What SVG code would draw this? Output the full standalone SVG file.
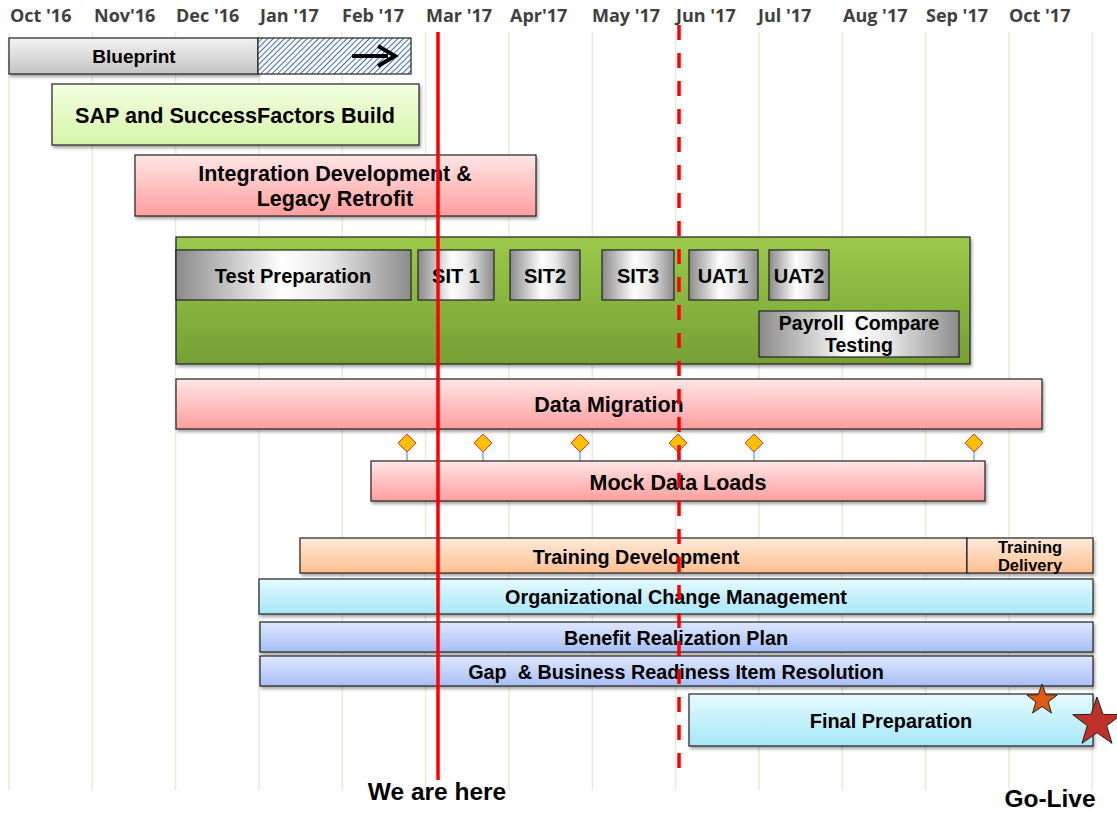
<svg xmlns="http://www.w3.org/2000/svg" width="1117" height="813" viewBox="0 0 1117 813">
<defs>
<style>
.mon{font-family:"Open Sans","Liberation Sans",sans-serif;font-weight:bold;font-size:18px;fill:#404040}
.t{font-family:"Liberation Sans",Arial,sans-serif;font-weight:bold;fill:#000;text-anchor:middle}
.grid{stroke:#ece8dc;stroke-width:1.5}
.bar{stroke:#222;stroke-width:1.2}
</style>
<linearGradient id="gGray" x1="0" y1="0" x2="0" y2="1"><stop offset="0" stop-color="#f2f2f2"/><stop offset="1" stop-color="#c4c4c4"/></linearGradient>
<linearGradient id="gGreenL" x1="0" y1="0" x2="0" y2="1"><stop offset="0" stop-color="#f4ffe4"/><stop offset="1" stop-color="#d6f5a6"/></linearGradient>
<linearGradient id="gPink" x1="0" y1="0" x2="0" y2="1"><stop offset="0" stop-color="#ffe6e6"/><stop offset="1" stop-color="#ff9e9e"/></linearGradient>
<linearGradient id="gGreen" x1="0" y1="0" x2="0" y2="1"><stop offset="0" stop-color="#9cc94a"/><stop offset="1" stop-color="#76a035"/></linearGradient>
<linearGradient id="gSilver" x1="0" y1="0" x2="1" y2="0"><stop offset="0" stop-color="#8a8a8a"/><stop offset="0.45" stop-color="#ffffff"/><stop offset="0.65" stop-color="#e8e8e8"/><stop offset="1" stop-color="#8c8c8c"/></linearGradient>
<linearGradient id="gPeach" x1="0" y1="0" x2="0" y2="1"><stop offset="0" stop-color="#ffeadc"/><stop offset="1" stop-color="#ffbf8e"/></linearGradient>
<linearGradient id="gCyan" x1="0" y1="0" x2="0" y2="1"><stop offset="0" stop-color="#e6fbff"/><stop offset="1" stop-color="#a6e6f8"/></linearGradient>
<linearGradient id="gBlue" x1="0" y1="0" x2="0" y2="1"><stop offset="0" stop-color="#dfe8ff"/><stop offset="1" stop-color="#a7bff6"/></linearGradient>
<pattern id="hatch" width="4" height="4" patternUnits="userSpaceOnUse" patternTransform="rotate(45)"><rect width="4" height="4" fill="#fff"/><line x1="0" y1="0" x2="0" y2="4" stroke="#3a6ab8" stroke-width="2"/></pattern>
<filter id="sh" x="-5%" y="-20%" width="110%" height="150%"><feDropShadow dx="1.5" dy="2.5" stdDeviation="1.5" flood-color="#000" flood-opacity="0.35"/></filter>
</defs>
<rect width="1117" height="813" fill="#fff"/>
<g id="grid">
<line class="grid" x1="9" y1="32" x2="9" y2="790"/>
<line class="grid" x1="92.3" y1="32" x2="92.3" y2="790"/>
<line class="grid" x1="175.6" y1="32" x2="175.6" y2="790"/>
<line class="grid" x1="259" y1="32" x2="259" y2="790"/>
<line class="grid" x1="342.3" y1="32" x2="342.3" y2="790"/>
<line class="grid" x1="425.6" y1="32" x2="425.6" y2="790"/>
<line class="grid" x1="509" y1="32" x2="509" y2="790"/>
<line class="grid" x1="592.3" y1="32" x2="592.3" y2="790"/>
<line class="grid" x1="675.6" y1="32" x2="675.6" y2="790"/>
<line class="grid" x1="759" y1="32" x2="759" y2="790"/>
<line class="grid" x1="842.3" y1="32" x2="842.3" y2="790"/>
<line class="grid" x1="925.6" y1="32" x2="925.6" y2="790"/>
<line class="grid" x1="1009" y1="32" x2="1009" y2="790"/>
<line class="grid" x1="1092.3" y1="32" x2="1092.3" y2="790"/>
</g>
<g id="months">
<text class="mon" x="10" y="22">Oct '16</text>
<text class="mon" x="94" y="22">Nov'16</text>
<text class="mon" x="176" y="22">Dec '16</text>
<text class="mon" x="260" y="22">Jan '17</text>
<text class="mon" x="342" y="22">Feb '17</text>
<text class="mon" x="426" y="22">Mar '17</text>
<text class="mon" x="510" y="22">Apr'17</text>
<text class="mon" x="592" y="22">May '17</text>
<text class="mon" x="676" y="22">Jun '17</text>
<text class="mon" x="758" y="22">Jul '17</text>
<text class="mon" x="843" y="22">Aug '17</text>
<text class="mon" x="926" y="22">Sep '17</text>
<text class="mon" x="1009" y="22">Oct '17</text>
</g>
<g id="blueprint">
<rect class="bar" x="9" y="38" width="249" height="36" fill="url(#gGray)" filter="url(#sh)"/>
<rect class="bar" x="258" y="38" width="153" height="36" fill="url(#hatch)"/>
<text class="t" x="134" y="63" font-size="19">Blueprint</text>
<path d="M352 56 H388" stroke="#000" stroke-width="4"/>
<path d="M378 46 L395 56 L378 66" fill="none" stroke="#000" stroke-width="4"/>
</g>
<g id="sap-build">
<rect class="bar" x="52" y="84" width="367" height="61" fill="url(#gGreenL)" filter="url(#sh)"/>
<text class="t" x="235" y="123" font-size="21.6">SAP and SuccessFactors Build</text>
</g>
<g id="integration">
<rect class="bar" x="135" y="155" width="401" height="61" fill="url(#gPink)" filter="url(#sh)"/>
<text class="t" x="335" y="181" font-size="21.5">Integration Development &amp;</text>
<text class="t" x="335" y="206" font-size="21.5">Legacy Retrofit</text>
</g>
<g id="testing">
<rect class="bar" x="176" y="237" width="794" height="127" fill="url(#gGreen)" filter="url(#sh)"/>
</g>
<g id="test-prep">
<rect class="bar" x="176" y="250" width="235" height="50" fill="url(#gSilver)"/>
<text class="t" x="293" y="283" font-size="20">Test Preparation</text>
</g>
<g id="sit1">
<rect class="bar" x="418" y="250" width="76" height="50" fill="url(#gSilver)"/>
<text class="t" x="456" y="283" font-size="20">SIT 1</text>
</g>
<g id="sit2">
<rect class="bar" x="510" y="250" width="70" height="50" fill="url(#gSilver)"/>
<text class="t" x="545" y="283" font-size="20">SIT2</text>
</g>
<g id="sit3">
<rect class="bar" x="602" y="250" width="72" height="50" fill="url(#gSilver)"/>
<text class="t" x="638" y="283" font-size="20">SIT3</text>
</g>
<g id="uat1">
<rect class="bar" x="689" y="250" width="69" height="50" fill="url(#gSilver)"/>
<text class="t" x="723" y="283" font-size="20">UAT1</text>
</g>
<g id="uat2">
<rect class="bar" x="769" y="250" width="60" height="50" fill="url(#gSilver)"/>
<text class="t" x="799" y="283" font-size="20">UAT2</text>
</g>
<g id="payroll">
<rect class="bar" x="759" y="311" width="200" height="46" fill="url(#gSilver)"/>
<text class="t" x="859" y="330" font-size="19.5" xml:space="preserve">Payroll  Compare</text>
<text class="t" x="859" y="352" font-size="19.5">Testing</text>
</g>
<g id="data-migration">
<rect class="bar" x="176" y="379" width="866" height="50" fill="url(#gPink)" filter="url(#sh)"/>
<text class="t" x="609" y="412" font-size="21.5">Data Migration</text>
</g>
<g id="milestones">
<g stroke="#6a8fbf" stroke-width="1.2">
<line x1="407" y1="443" x2="407" y2="461"/>
<line x1="483" y1="443" x2="483" y2="461"/>
<line x1="580" y1="443" x2="580" y2="461"/>
<line x1="678" y1="443" x2="678" y2="461"/>
<line x1="754" y1="443" x2="754" y2="461"/>
<line x1="974" y1="443" x2="974" y2="461"/>
</g>
<g fill="#ffc000" stroke="#ff3030" stroke-width="1">
<path d="M407 434 L416 443 L407 452 L398 443 Z"/>
<path d="M483 434 L492 443 L483 452 L474 443 Z"/>
<path d="M580 434 L589 443 L580 452 L571 443 Z"/>
<path d="M678 434 L687 443 L678 452 L669 443 Z"/>
<path d="M754 434 L763 443 L754 452 L745 443 Z"/>
<path d="M974 434 L983 443 L974 452 L965 443 Z"/>
</g>
</g>
<g id="mock-loads">
<rect class="bar" x="371" y="461" width="614" height="40" fill="url(#gPink)" filter="url(#sh)"/>
<text class="t" x="678" y="490" font-size="21.5">Mock Data Loads</text>
</g>
<g id="training-dev">
<rect class="bar" x="300" y="538" width="667" height="35" fill="url(#gPeach)" filter="url(#sh)"/>
<text class="t" x="636" y="564" font-size="19.8">Training Development</text>
</g>
<g id="training-del">
<rect class="bar" x="967" y="538" width="126" height="35" fill="url(#gPeach)" filter="url(#sh)"/>
<text class="t" x="1030" y="553" font-size="16.5">Training</text>
<text class="t" x="1030" y="571" font-size="16.5">Delivery</text>
</g>
<g id="ocm">
<rect class="bar" x="259" y="579" width="834" height="35" fill="url(#gCyan)" filter="url(#sh)"/>
<text class="t" x="676" y="604" font-size="19.8">Organizational Change Management</text>
</g>
<g id="benefit">
<rect class="bar" x="260" y="622" width="833" height="30" fill="url(#gBlue)" filter="url(#sh)"/>
<text class="t" x="676" y="645" font-size="19.8">Benefit Realization Plan</text>
</g>
<g id="gap">
<rect class="bar" x="260" y="656" width="833" height="30" fill="url(#gBlue)" filter="url(#sh)"/>
<text class="t" x="676" y="679" font-size="19.8" xml:space="preserve">Gap  &amp; Business Readiness Item Resolution</text>
</g>
<g id="final-prep">
<rect class="bar" x="689" y="694" width="404" height="52" fill="url(#gCyan)" filter="url(#sh)"/>
<text class="t" x="891" y="728" font-size="19.9">Final Preparation</text>
</g>
<g id="markers">
<line x1="438" y1="32" x2="438" y2="780" stroke="#ff0000" stroke-width="3.5"/>
<line x1="679" y1="25" x2="679" y2="780" stroke="#ff0000" stroke-width="3.5" stroke-dasharray="15 13"/>
<path d="M1042,684 L1045.8,694.8 L1057.2,695 L1048.1,702 L1051.4,713 L1042,706.5 L1032.6,713 L1035.9,702 L1026.8,695 L1038.2,694.8 Z" fill="#e05a10" stroke="#222" stroke-width="1"/>
<path d="M1097,697 L1103,714.3 L1121.3,714.7 L1106.7,725.7 L1112,743.3 L1097,732.8 L1082,743.3 L1087.3,725.7 L1072.7,714.7 L1091,714.3 Z" fill="#c0302a" stroke="#222" stroke-width="1"/>
</g>
<g id="labels">
<text class="t" x="437" y="800" font-size="24.5">We are here</text>
<text class="t" x="1050" y="807" font-size="24.5">Go-Live</text>
</g>
</svg>
